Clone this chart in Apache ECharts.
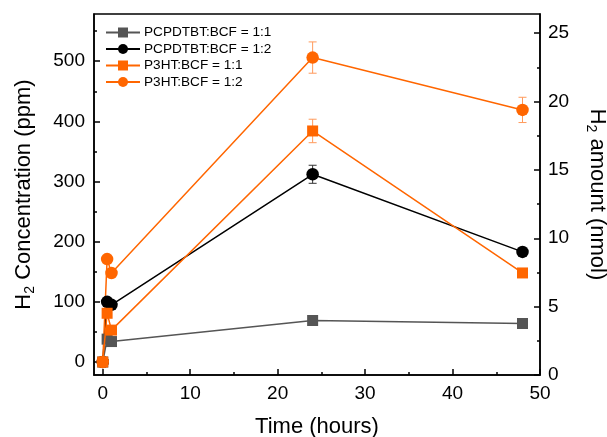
<!DOCTYPE html>
<html>
<head>
<meta charset="utf-8">
<script src="https://cdn.jsdelivr.net/npm/echarts@6/dist/echarts.min.js"></script>
<style>
  html, body { margin: 0; padding: 0; background: #fff; }
  #chart { width: 607px; height: 437px; }
</style>
</head>
<body>
<div id="chart"></div>
<script>
// Sampling times (hours)
const timeHours = [0, 0.5, 1, 24, 48];

// H2 concentration (ppm) per blend
const pcpdtbt11 = [0, 38, 34, 69, 64];
const pcpdtbt12 = [0, 100, 95, 312, 183];
const p3ht11 = [0, 81, 53, 384, 148];
const p3ht12 = [0, 171, 148, 506, 419];

// Standard deviations (ppm)
const pcpdtbt12Err = [0, 0, 0, 15, 0];
const p3ht11Err = [0, 0, 0, 19.5, 0];
const p3ht12Err = [0, 0, 0, 26, 21];

// Series names
const seriesNames = ['PCPDTBT:BCF = 1:1', 'PCPDTBT:BCF = 1:2', 'P3HT:BCF = 1:1', 'P3HT:BCF = 1:2'];

// Axis ticks
const xMajor = [0, 10, 20, 30, 40, 50];
const xMinor = [5, 15, 25, 35, 45];
const yLeftMajor = [0, 100, 200, 300, 400, 500];
const yLeftMinor = [50, 150, 250, 350, 450, 550];
const yRightMajor = [0, 5, 10, 15, 20, 25];
const yRightMinor = [2.5, 7.5, 12.5, 17.5, 22.5];

const FONT = 'Liberation Sans, Arial, Helvetica, sans-serif';
const GRAY = '#555555';
const BLACK = '#000000';
const ORANGE = '#FF6600';

const pairs = (vals) => timeHours.map((t, i) => [t, vals[i]]);
const errTriples = (vals, errs) => timeHours
  .map((t, i) => [t, vals[i], errs[i]])
  .filter(d => d[2] > 0);

const X_RANGE = [-1, 50];
const Y_LEFT_RANGE = [-21.6, 578.4];
const Y_RIGHT_RANGE = [0, 26.4];

const axisLineStyle = { color: '#000', width: 1.5 };
const tickFont = { color: '#000', fontSize: 19, fontFamily: FONT };

function minorAxis(base, values) {
  return Object.assign({}, base, {
    axisLine: { show: false, onZero: false },
    axisLabel: { show: false },
    splitLine: { show: false },
    axisTick: { show: true, inside: true, length: 3, lineStyle: { color: '#000', width: 1.5 }, customValues: values },
    name: ''
  });
}

const titleRich = {
  t: { fontSize: 22, fontFamily: FONT, color: '#000', lineHeight: 26 },
  s: { fontSize: 14, fontFamily: FONT, color: '#000', lineHeight: 14, verticalAlign: 'bottom' }
};

const xBase = { type: 'value', min: X_RANGE[0], max: X_RANGE[1], position: 'bottom', gridIndex: 0 };
const yLeftBase = { type: 'value', min: Y_LEFT_RANGE[0], max: Y_LEFT_RANGE[1], position: 'left', gridIndex: 0 };
const yRightBase = { type: 'value', min: Y_RIGHT_RANGE[0], max: Y_RIGHT_RANGE[1], position: 'right', gridIndex: 0 };

function errorBarSeries(data, color) {
  return {
    type: 'custom',
    xAxisIndex: 0,
    yAxisIndex: 0,
    z: 1,
    silent: true,
    data: data,
    renderItem(params, api) {
      const x = api.value(0), y = api.value(1), e = api.value(2);
      const top = api.coord([x, y + e]);
      const bot = api.coord([x, y - e]);
      const half = 4;
      const style = { stroke: color, lineWidth: 1 };
      return {
        type: 'group',
        children: [
          { type: 'line', shape: { x1: top[0], y1: top[1], x2: bot[0], y2: bot[1] }, style },
          { type: 'line', shape: { x1: top[0] - half, y1: top[1], x2: top[0] + half, y2: top[1] }, style },
          { type: 'line', shape: { x1: bot[0] - half, y1: bot[1], x2: bot[0] + half, y2: bot[1] }, style }
        ]
      };
    }
  };
}

function lineSeries(name, vals, color, symbol, size, z) {
  return {
    name: name,
    type: 'line',
    xAxisIndex: 0,
    yAxisIndex: 0,
    data: pairs(vals),
    symbol: symbol,
    symbolSize: size,
    showAllSymbol: true,
    z: z,
    lineStyle: { color: color, width: 1.5 },
    itemStyle: { color: color, opacity: 1 },
    emphasis: { disabled: true }
  };
}

const chart = echarts.init(document.getElementById('chart'), null, { renderer: 'canvas' });

chart.setOption({
  animation: false,
  backgroundColor: '#fff',
  grid: {
    left: 94, right: 67, top: 14, bottom: 62,
    containLabel: false,
    outerBoundsMode: 'none',
    show: true, borderColor: '#000', borderWidth: 1.5, backgroundColor: 'transparent'
  },
  legend: {
    data: seriesNames,
    orient: 'vertical',
    left: 100,
    top: 20.5,
    padding: 5,
    itemWidth: 34,
    itemHeight: 12.5,
    itemGap: 2.5,
    textStyle: { color: '#000', fontSize: 13.6, fontFamily: FONT, lineHeight: 14, padding: [0, 0, 0, -1] },
    selectedMode: false
  },
  xAxis: [
    Object.assign({}, xBase, {
      axisLine: { show: true, onZero: false, lineStyle: axisLineStyle },
      axisTick: { show: true, inside: true, length: 6, lineStyle: { color: '#000', width: 1.5 }, customValues: xMajor },
      axisLabel: Object.assign({ margin: 9, customValues: xMajor }, tickFont),
      splitLine: { show: false },
      name: 'Time (hours)',
      nameLocation: 'middle',
      nameGap: 41,
      nameTextStyle: { fontSize: 22, fontFamily: FONT, color: '#000' }
    }),
    minorAxis(xBase, xMinor)
  ],
  yAxis: [
    Object.assign({}, yLeftBase, {
      axisLine: { show: true, onZero: false, lineStyle: axisLineStyle },
      axisTick: { show: true, inside: true, length: 6, lineStyle: { color: '#000', width: 1.5 }, customValues: yLeftMajor },
      axisLabel: Object.assign({ margin: 9, customValues: yLeftMajor }, tickFont),
      splitLine: { show: false },
      name: '{t|H}{s|2}{t| Concentration (ppm)}',
      nameLocation: 'middle',
      nameGap: 57,
      nameTextStyle: { rich: titleRich }
    }),
    Object.assign({}, yRightBase, {
      axisLine: { show: true, onZero: false, lineStyle: axisLineStyle },
      axisTick: { show: true, inside: true, length: 6, lineStyle: { color: '#000', width: 1.5 }, customValues: yRightMajor },
      axisLabel: Object.assign({ margin: 8, customValues: yRightMajor }, tickFont),
      splitLine: { show: false },
      name: '{t|H}{s|2}{t| amount (nmol)}',
      nameLocation: 'middle',
      nameRotate: -90,
      nameGap: 44,
      nameTextStyle: { rich: titleRich }
    }),
    minorAxis(yLeftBase, yLeftMinor),
    minorAxis(yRightBase, yRightMinor)
  ],
  series: [
    errorBarSeries(errTriples(pcpdtbt12, pcpdtbt12Err), '#333333'),
    errorBarSeries(errTriples(p3ht11, p3ht11Err), '#FF9A5C'),
    errorBarSeries(errTriples(p3ht12, p3ht12Err), '#FF9A5C'),
    lineSeries(seriesNames[0], pcpdtbt11, GRAY, 'rect', 11, 2),
    lineSeries(seriesNames[1], pcpdtbt12, BLACK, 'circle', 12.5, 2),
    lineSeries(seriesNames[3], p3ht12, ORANGE, 'circle', 12.5, 2),
    lineSeries(seriesNames[2], p3ht11, ORANGE, 'rect', 11, 3)
  ]
});
</script>
</body>
</html>
